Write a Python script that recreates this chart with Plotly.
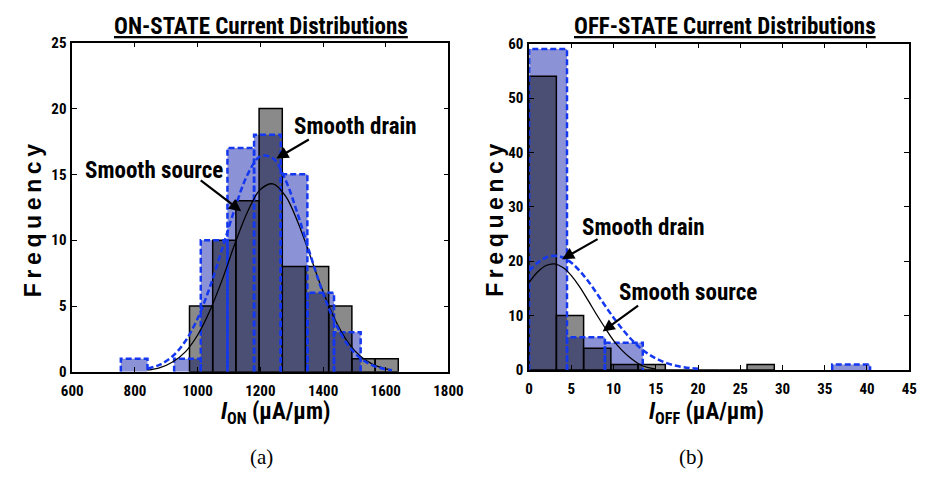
import plotly.graph_objects as go

# ---------------- data ----------------
# ON-state (panel a)
on_source_edges = [974, 1048, 1122, 1196, 1270, 1344, 1418, 1492, 1566]
on_source_width = 74
on_source_counts = [5, 10, 13, 20, 8, 8, 5, 1, 1]

on_drain_edges = [755, 840, 925, 1010, 1095, 1180, 1265, 1350, 1435]
on_drain_width = 85
on_drain_counts = [1, 0, 1, 10, 17, 18, 15, 6, 3]

on_fit_x = [840, 880, 920, 960, 1000, 1040, 1080, 1120, 1160, 1200, 1240, 1280,
            1320, 1360, 1400, 1440, 1480, 1520, 1560, 1600, 1620]
on_source_fit = [0.13, 0.32, 0.75, 1.5, 2.8, 4.7, 7.1, 9.8, 12.2, 13.85, 14.28, 13.37,
                 11.35, 8.74, 6.1, 3.87, 2.22, 1.16, 0.55, 0.23, 0.14]
on_drain_fit = [0.24, 0.55, 1.19, 2.3, 4.06, 6.5, 9.47, 12.5, 15.02, 16.37, 16.22, 14.59,
                11.92, 8.85, 5.97, 3.66, 2.03, 1.03, 0.47, 0.2, 0.13]

# OFF-state (panel b)
off_source_edges = [0, 3.225, 6.45, 9.675, 12.9, 16.125, 19.35, 22.575, 25.8]
off_source_width = 3.225
off_source_counts = [54, 10, 4, 1, 1, 0, 0, 0, 1]

off_drain_edges = [0, 4.485, 8.97, 13.455, 17.94, 22.425, 26.91, 31.395, 35.88]
off_drain_width = 4.485
off_drain_counts = [59, 6, 5, 0, 0, 0, 0, 0, 1]

off_source_fit_x = [0, 1, 2, 3, 4, 5, 6, 7, 8, 9, 10, 11, 12, 13, 14, 15]
off_source_fit = [16.1, 18.0, 19.2, 19.49, 18.83, 17.35, 15.23, 12.74, 10.15, 7.71,
                  5.4, 3.6, 2.2, 1.1, 0.45, 0.15]
off_drain_fit_x = [0, 1, 2, 3, 4, 5, 6, 7, 8, 9, 10, 11, 12, 13, 14, 15, 16, 17, 18, 19, 20]
off_drain_fit = [18.2, 19.7, 20.67, 21.0, 20.67, 19.7, 18.2, 16.3, 14.1, 11.8, 9.6, 7.57,
                 5.78, 4.27, 3.05, 2.11, 1.42, 0.92, 0.58, 0.35, 0.2]

on_xticks = [600, 800, 1000, 1200, 1400, 1600, 1800]
on_yticks = [0, 5, 10, 15, 20, 25]
off_xticks = [0, 5, 10, 15, 20, 25, 30, 35, 40, 45]
off_yticks = [0, 10, 20, 30, 40, 50, 60]

# ---------------- style ----------------
W, H = 932, 480
NARROW = "Roboto Condensed, Liberation Sans Narrow, Arial Narrow, Roboto, sans-serif"
BLUE_FILL = "rgb(140,146,214)"
GRAY_FILL = "rgba(0,0,0,0.46)"
BLUE_LINE = "rgb(20,55,240)"


def outline(edges, width, counts):
    xs, ys = [], []
    for l, c in zip(edges, counts):
        if c > 0:
            r = l + width
            xs += [l, l, r, r, None]
            ys += [0, c, c, 0, None]
    return xs, ys


fig = go.Figure()


def add_panel(xa, ya, d_edges, d_w, d_counts, s_edges, s_w, s_counts,
              s_fx, s_fy, d_fx, d_fy):
    fig.add_trace(go.Bar(x=d_edges, y=d_counts, width=[d_w] * len(d_edges), offset=0,
                         marker=dict(color=BLUE_FILL, line=dict(width=0)),
                         xaxis=xa, yaxis=ya, showlegend=False))
    fig.add_trace(go.Bar(x=s_edges, y=s_counts, width=[s_w] * len(s_edges), offset=0,
                         marker=dict(color=GRAY_FILL, line=dict(width=1.5, color="black")),
                         xaxis=xa, yaxis=ya, showlegend=False))
    ox, oy = outline(d_edges, d_w, d_counts)
    fig.add_trace(go.Scatter(x=ox, y=oy, mode="lines",
                             line=dict(color=BLUE_LINE, width=2.5, dash="6px,3px"),
                             xaxis=xa, yaxis=ya, showlegend=False, connectgaps=False))
    fig.add_trace(go.Scatter(x=s_fx, y=s_fy, mode="lines", line_shape="spline",
                             line=dict(color="black", width=1.3),
                             xaxis=xa, yaxis=ya, showlegend=False))
    fig.add_trace(go.Scatter(x=d_fx, y=d_fy, mode="lines", line_shape="spline",
                             line=dict(color=BLUE_LINE, width=2.5, dash="6px,3px"),
                             xaxis=xa, yaxis=ya, showlegend=False))


add_panel("x", "y", on_drain_edges, on_drain_width, on_drain_counts,
          on_source_edges, on_source_width, on_source_counts,
          on_fit_x, on_source_fit, on_fit_x, on_drain_fit)
add_panel("x2", "y2", off_drain_edges, off_drain_width, off_drain_counts,
          off_source_edges, off_source_width, off_source_counts,
          off_source_fit_x, off_source_fit, off_drain_fit_x, off_drain_fit)

axis_common = dict(showline=True, linecolor="black", linewidth=1.5, mirror="ticks",
                   ticks="inside", ticklen=5, tickwidth=1, tickcolor="black",
                   showgrid=False, zeroline=False,
                   tickfont=dict(family=NARROW, size=15, color="black", weight="bold"))

fig.update_layout(
    width=W, height=H, margin=dict(l=0, r=0, t=0, b=0),
    paper_bgcolor="white", plot_bgcolor="white", barmode="overlay",
    xaxis=dict(domain=[63 / W, 450 / W], range=[600, 1800], tickvals=on_xticks, anchor="y",
               ticklabelstandoff=4, **axis_common),
    yaxis=dict(domain=[(H - 377) / H, (H - 35) / H], range=[0, 25], tickvals=on_yticks, anchor="x",
               ticklabelstandoff=1, **axis_common),
    xaxis2=dict(domain=[533 / W, 924 / W], range=[0, 45], tickvals=off_xticks, anchor="y2",
                ticklabelstandoff=4, **axis_common),
    yaxis2=dict(domain=[(H - 375) / H, (H - 36) / H], range=[0, 60], tickvals=off_yticks, anchor="x2",
                ticklabelstandoff=1, **axis_common),
)

anns = []


def ptext(px, py, text, size, family=NARROW, bold=True, angle=0):
    anns.append(dict(x=px / W, y=1 - py / H, xref="paper", yref="paper", text=text,
                     showarrow=False, textangle=angle, xanchor="center", yanchor="middle",
                     font=dict(family=family, size=size, color="black",
                               weight="bold" if bold else "normal")))


# titles
ptext(257, 18, "<u>ON-STATE Current Distributions</u>", 23)
ptext(734, 18, "<u>OFF-STATE Current Distributions</u>", 23)
# y titles (letter spaced)
spaced = "\u2009".join("Frequency")
ptext(22, 220, spaced, 23, family="Liberation Sans, Arial, sans-serif", angle=-90)
ptext(498, 220, spaced, 23, family="Liberation Sans, Arial, sans-serif", angle=-90)
# x titles
ptext(272, 420, "<i>I</i><sub>ON</sub> (µA/µm)", 23)
ptext(715, 420, "<i>I</i><sub>OFF</sub> (µA/µm)", 23)
# panel labels
ptext(258, 465, "(a)", 21, family="Liberation Serif, Times New Roman, serif", bold=False)
ptext(700, 465, "(b)", 21, family="Liberation Serif, Times New Roman, serif", bold=False)


def arrow(xa, ya, x, y, ax, ay):
    anns.append(dict(x=x, y=y, xref=xa, yref=ya, ax=ax, ay=ay, axref="pixel", ayref="pixel",
                     text="", showarrow=True, arrowhead=2, arrowsize=1.1, arrowwidth=2.2,
                     arrowcolor="black"))


def dtext(xa, ya, x, y, text):
    anns.append(dict(x=x, y=y, xref=xa, yref=ya, text=text, showarrow=False,
                     xanchor="center", yanchor="middle",
                     font=dict(family=NARROW, size=23, color="black", weight="bold")))


dtext("x", "y", 1505, 18.6, "Smooth drain")
dtext("x", "y", 860, 15.3, "Smooth source")
arrow("x", "y", 1251, 16.2, 34, -20)
arrow("x", "y", 1139, 12.2, -42, -32)

dtext("x2", "y2", 13.5, 26.2, "Smooth drain")
dtext("x2", "y2", 18.8, 14.3, "Smooth source")
arrow("x2", "y2", 3.9, 20.35, 37, -21)
arrow("x2", "y2", 8.7, 7.08, 37, -27)

fig.update_layout(annotations=anns)
fig.write_html("out.html")
